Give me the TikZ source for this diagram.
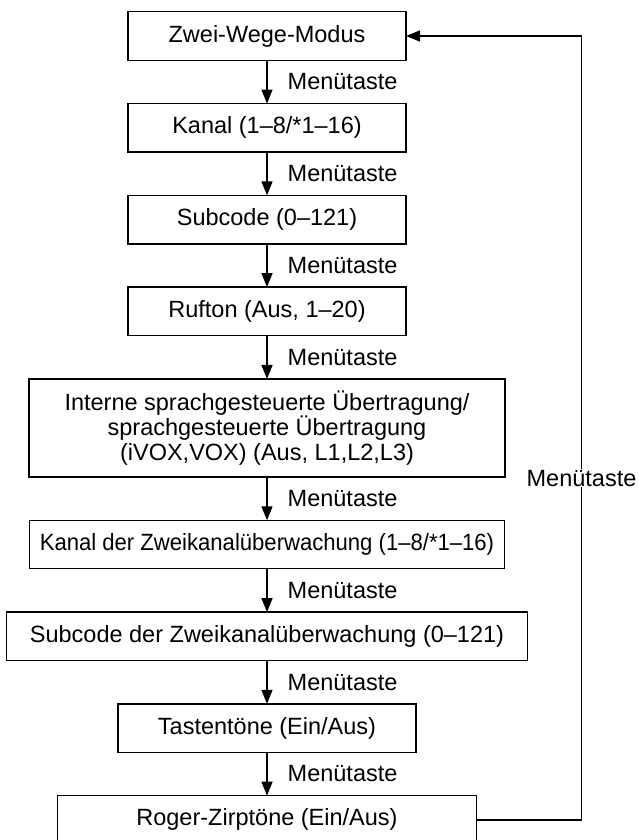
\documentclass[tikz,border=0pt]{standalone}
\usepackage{fontspec}
\setmainfont{Liberation Sans}
\usepackage{tikz}
\usetikzlibrary{arrows.meta, positioning, calc}
\tikzset{
	% menu flow styles
	menubox/.style  ={rectangle, draw=black, line width=1.4pt, outer sep=0pt, minimum height=48.5pt, inner xsep=3pt, align=center, fill=white},
	menuarrow/.style={-{Triangle[length=14pt, width=11pt]}, line width=1.4pt},
	tastelbl/.style ={right=20pt, inner sep=0pt},
}
\begin{document}
\begin{tikzpicture}[font=\fontsize{23.5}{24.5}\selectfont, node distance=43.3pt]
	\useasboundingbox (0,0) rectangle (639pt,-840pt);
	\node[menubox, minimum width=278pt] (zwm) at (267pt,-36pt) {Zwei-Wege-Modus};
	\node[menubox, minimum width=278pt, below=of zwm] (kanal) {Kanal (1–8/*1–16)};
	\node[menubox, minimum width=278pt, below=of kanal] (subc) {Subcode (0–121)};
	\node[menubox, minimum width=278pt, below=of subc] (ruf) {Rufton (Aus, 1–20)};
	\node[menubox, minimum width=476pt, minimum height=98pt, below=of ruf] (vox) {Interne sprachgesteuerte Übertragung/\\sprachgesteuerte Übertragung\\(iVOX,VOX) (Aus, L1,L2,L3)};
	\node[menubox, minimum width=475pt, below=of vox] (zkkanal) {\addfontfeatures{FakeStretch=0.94}Kanal der Zweikanalüberwachung (1–8/*1–16)};
	\node[menubox, minimum width=521pt, below=of zkkanal] (zksubc) {Subcode der Zweikanalüberwachung (0–121)};
	\node[menubox, minimum width=298pt, below=of zksubc] (tasten) {Tastentöne (Ein/Aus)};
	\node[menubox, minimum width=419pt, below=of tasten] (roger) {Roger-Zirptöne (Ein/Aus)};
	\draw[menuarrow] (zwm) -- node[tastelbl] (mt1) {Menütaste} (kanal);
	\draw[menuarrow] (kanal) -- node[tastelbl] (mt2) {Menütaste} (subc);
	\draw[menuarrow] (subc) -- node[tastelbl] (mt3) {Menütaste} (ruf);
	\draw[menuarrow] (ruf) -- node[tastelbl] (mt4) {Menütaste} (vox);
	\draw[menuarrow] (vox) -- node[tastelbl] (mt5) {Menütaste} (zkkanal);
	\draw[menuarrow] (zkkanal) -- node[tastelbl] (mt6) {Menütaste} (zksubc);
	\draw[menuarrow] (zksubc) -- node[tastelbl] (mt7) {Menütaste} (tasten);
	\draw[menuarrow] (tasten) -- node[tastelbl] (mt8) {Menütaste} (roger);
	\coordinate (ecke) at ($(roger.east)+(105pt,0)$);
	\draw[line width=1.4pt] (roger.east) -- (ecke);
	\draw[menuarrow] (ecke) |- node[pos=0.218, fill=white, inner xsep=0pt, inner ysep=1pt] (mt9) {Menütaste} (zwm.east);
\end{tikzpicture}
\end{document}
